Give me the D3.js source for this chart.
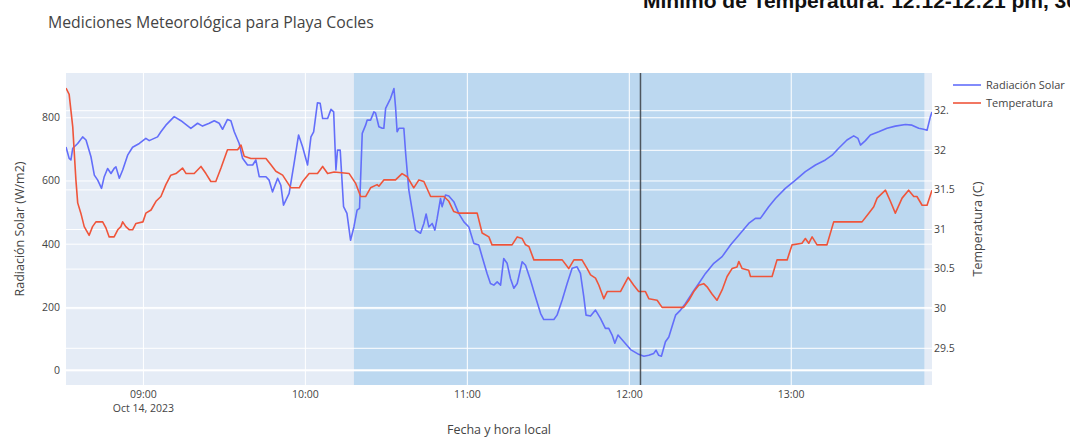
<!DOCTYPE html>
<html>
<head>
<meta charset="utf-8">
<script src="https://d3js.org/d3.v7.min.js"></script>
<style>
body { margin: 0; background: #ffffff; }
text { font-family: "Open Sans", sans-serif; }
</style>
</head>
<body>
<div id="chart"></div>
<script>
// Temperatura (C)
var tempTimes = ["08:31:30","08:32:40","08:34:00","08:35:10","08:35:50","08:37:00","08:38:15","08:40:05","08:41:20","08:42:35",
	"08:45:05","08:46:20","08:47:30","08:49:20","08:50:40","08:51:50","08:52:30","08:53:40","08:55:00","08:56:10",
	"08:57:25","09:00:00","09:01:05","09:03:00","09:04:50","09:06:40","09:08:30","09:10:20","09:12:15","09:14:40",
	"09:16:00","09:19:00","09:21:30","09:23:20","09:25:10","09:27:00","09:28:55","09:31:20","09:35:05","09:36:20",
	"09:37:30","09:40:00","09:45:35","09:47:25","09:49:15","09:51:45","09:54:50","09:57:55","09:59:10","10:01:35",
	"10:04:40","10:06:35","10:08:25","10:10:50","10:16:25","10:18:45","10:20:40","10:22:30","10:24:20","10:26:45",
	"10:27:25","10:29:15","10:33:35","10:36:00","10:37:55","10:40:20","10:42:15","10:44:05","10:46:35","10:51:30",
	"10:53:20","10:55:10","10:57:00","11:03:50","11:05:40","11:08:10","11:09:20","11:16:45","11:18:40","11:20:30",
	"11:21:45","11:23:00","11:24:50","11:35:20","11:37:45","11:39:40","11:42:40","11:44:35","11:45:50","11:47:40",
	"11:48:55","11:50:45","11:52:00","11:56:55","11:59:45","12:01:50","12:03:40","12:06:10","12:07:25","12:10:30",
	"12:12:20","12:20:20","12:22:15","12:24:05","12:25:55","12:27:45","12:29:00","12:30:50","12:32:40","12:34:35",
	"12:36:25","12:38:15","12:40:05","12:40:45","12:42:00","12:44:25","12:45:05","12:53:05","12:54:55","12:58:40",
	"13:00:30","13:04:10","13:05:25","13:06:40","13:07:55","13:09:45","13:13:25","13:15:55","13:26:25","13:28:55",
	"13:30:45","13:32:00","13:35:05","13:36:55","13:38:45","13:41:15","13:43:40","13:45:35","13:46:45","13:48:40",
	"13:50:30","13:52:20"];
var tempValues = [32.78,32.70,32.29,31.62,31.33,31.20,31.03,30.92,31.03,31.09,
	31.09,31.01,30.90,30.90,30.99,31.03,31.09,31.03,30.99,30.99,
	31.07,31.09,31.20,31.24,31.35,31.41,31.56,31.68,31.70,31.77,
	31.70,31.70,31.79,31.70,31.60,31.60,31.77,32.00,32.00,32.06,
	31.92,31.89,31.89,31.81,31.73,31.68,31.52,31.52,31.60,31.70,
	31.70,31.79,31.70,31.72,31.70,31.58,31.41,31.41,31.52,31.56,
	31.54,31.62,31.62,31.70,31.66,31.52,31.62,31.60,31.41,31.41,
	31.35,31.22,31.20,31.20,30.95,30.90,30.80,30.80,30.90,30.88,
	30.80,30.78,30.61,30.61,30.50,30.61,30.61,30.50,30.42,30.38,
	30.29,30.12,30.21,30.21,30.39,30.29,30.21,30.21,30.12,30.10,
	30.01,30.01,30.10,30.21,30.29,30.31,30.27,30.18,30.10,30.23,
	30.40,30.50,30.52,30.59,30.50,30.48,30.40,30.40,30.61,30.61,
	30.80,30.82,30.88,30.82,30.90,30.80,30.80,31.09,31.09,31.20,
	31.28,31.39,31.49,31.35,31.20,31.39,31.49,31.41,31.41,31.30,
	31.30,31.49];

// Radiacion Solar (W/m2)
var radTimes = ["08:31:30","08:32:40","08:33:20","08:34:00","08:35:50","08:37:40","08:38:55","08:40:45","08:42:00","08:43:15",
	"08:44:40","08:45:40","08:46:55","08:48:10","08:49:20","08:50:00","08:51:15","08:52:30","08:54:20","08:56:10",
	"08:58:40","09:01:05","09:02:20","09:05:25","09:06:40","09:08:30","09:11:35","09:14:05","09:17:45","09:20:15",
	"09:22:05","09:24:35","09:26:25","09:28:15","09:29:30","09:31:20","09:32:35","09:33:50","09:35:40","09:36:55",
	"09:38:45","09:40:40","09:41:50","09:43:05","09:45:35","09:46:45","09:48:00","09:49:55","09:51:05","09:52:05",
	"09:54:10","09:56:00","09:57:40","09:59:10","10:01:00","10:02:15","10:03:15","10:04:40","10:05:40","10:06:35",
	"10:08:25","10:09:40","10:10:40","10:11:30","10:12:05","10:13:05","10:14:20","10:15:35","10:16:55","10:18:10",
	"10:19:20","10:20:15","10:21:15","10:22:30","10:23:05","10:24:20","10:25:35","10:26:10","10:27:25","10:28:40",
	"10:29:15","10:29:55","10:31:45","10:33:00","10:33:35","10:34:10","10:34:50","10:36:40","10:37:20","10:38:30",
	"10:39:45","10:41:00","10:42:50","10:44:05","10:44:55","10:45:55","10:47:10","10:48:10","10:49:00","10:50:15",
	"10:50:50","10:52:05","10:53:20","10:55:10","10:57:00","10:58:55","11:00:45","11:02:35","11:04:25","11:05:40",
	"11:07:30","11:08:45","11:10:00","11:11:15","11:12:30","11:13:40","11:14:55","11:16:10","11:17:25","11:18:40",
	"11:20:30","11:21:45","11:23:35","11:25:25","11:27:20","11:28:30","11:32:15","11:33:25","11:35:20","11:37:10",
	"11:39:00","11:40:50","11:42:05","11:43:20","11:44:10","11:45:50","11:47:40","11:49:30","11:51:20","11:52:35",
	"11:53:50","11:54:50","11:56:00","11:58:10","12:00:40","12:03:40","12:05:35","12:07:25","12:09:15","12:10:05",
	"12:11:05","12:12:05","12:13:35","12:14:50","12:16:00","12:17:20","12:19:10","12:21:00","12:23:25","12:25:55",
	"12:28:25","12:31:30","12:34:35","12:37:40","12:40:45","12:44:25","12:46:55","12:48:45","12:51:50","12:54:20",
	"12:58:00","13:01:45","13:05:25","13:09:10","13:12:50","13:15:20","13:17:45","13:20:50","13:23:20","13:24:55",
	"13:25:50","13:27:40","13:29:30","13:32:35","13:35:40","13:38:45","13:42:30","13:44:55","13:47:25","13:49:15",
	"13:50:30","13:51:45","13:52:20"];
var radValues = [706,670,665,702,717,738,728,675,617,601,
	575,612,638,622,638,643,607,633,680,705,
	717,733,726,738,754,775,802,789,765,781,
	772,781,789,781,762,793,789,754,717,670,
	649,649,665,612,612,601,564,607,585,522,
	559,654,744,706,649,738,754,846,844,796,
	796,825,817,633,696,696,517,496,411,453,
	506,512,749,775,791,791,817,814,770,765,
	765,828,860,891,833,754,765,765,686,570,
	506,443,433,464,494,453,464,443,480,543,
	517,554,551,533,496,469,453,401,396,359,
	306,274,269,279,269,353,338,290,259,274,
	343,332,285,232,179,160,160,174,222,274,
	322,327,306,232,174,171,190,164,132,132,
	111,85,111,90,65,50,44,47,53,63,
	47,44,90,105,137,174,190,211,243,274,
	306,338,359,396,427,464,480,480,517,543,
	575,601,628,649,665,680,702,728,741,733,
	712,726,744,754,765,772,777,775,765,762,
	759,802,817];

var hourTicks = ["09:00", "10:00", "11:00", "12:00", "13:00"];
var dateLabel = "Oct 14, 2023";
var leftTicks = [0, 200, 400, 600, 800];
var rightTicks = [29.5, 30, 30.5, 31, 31.5, 32, 32.5];
var leftRange = [-47, 940];
var rightRange = [29.03, 32.97];
var shadeTimes = ["10:18:10", "13:49:30"];
var markerTime = "12:04:20";

var width = 1070, height = 437;
var margin = {top: 73, right: 138, bottom: 52, left: 66};
var plotW = width - margin.left - margin.right;
var plotH = height - margin.top - margin.bottom;

var parseTime = d3.timeParse("%H:%M:%S");
var parseHour = d3.timeParse("%H:%M");

var temp = tempTimes.map(function(t, i) { return {date: parseTime(t), value: tempValues[i]}; });
var rad = radTimes.map(function(t, i) { return {date: parseTime(t), value: radValues[i]}; });

var x = d3.scaleTime()
	.domain(d3.extent(temp.concat(rad), function(d) { return d.date; }))
	.range([0, plotW]);
var yLeft = d3.scaleLinear().domain(leftRange).range([plotH, 0]);
var yRight = d3.scaleLinear().domain(rightRange).range([plotH, 0]);

var svg = d3.select("#chart").append("svg")
	.attr("width", width)
	.attr("height", height);

var plot = svg.append("g")
	.attr("transform", "translate(" + margin.left + "," + margin.top + ")");

svg.append("defs").append("clipPath")
	.attr("id", "clip")
	.append("rect")
	.attr("width", plotW)
	.attr("height", plotH);

plot.append("rect")
	.attr("width", plotW)
	.attr("height", plotH)
	.attr("fill", "#e5ecf6");

// zona sombreada
plot.append("rect")
	.attr("x", x(parseTime(shadeTimes[0])))
	.attr("y", 0)
	.attr("width", x(parseTime(shadeTimes[1])) - x(parseTime(shadeTimes[0])))
	.attr("height", plotH)
	.attr("fill", "rgb(188,216,240)");

// grid lines
function grid(g) {
	g.select(".domain").remove();
	g.selectAll(".tick line").attr("stroke", "#ffffff").attr("stroke-width", 1);
	g.selectAll(".tick text").remove();
}
plot.append("g")
	.attr("transform", "translate(0," + plotH + ")")
	.call(d3.axisBottom(x).tickValues(hourTicks.map(parseHour)).tickSize(-plotH).tickFormat(""))
	.call(grid);
plot.append("g")
	.call(d3.axisLeft(yLeft).tickValues(leftTicks).tickSize(-plotW).tickFormat(""))
	.call(grid);
plot.append("g")
	.attr("transform", "translate(" + plotW + ",0)")
	.call(d3.axisRight(yRight).tickValues(rightTicks).tickSize(-plotW).tickFormat(""))
	.call(grid);
plot.append("line")
	.attr("x1", 0).attr("x2", plotW)
	.attr("y1", yLeft(0)).attr("y2", yLeft(0))
	.attr("stroke", "#ffffff")
	.attr("stroke-width", 2);

var lineRad = d3.line()
	.x(function(d) { return x(d.date); })
	.y(function(d) { return yLeft(d.value); });
var lineTemp = d3.line()
	.x(function(d) { return x(d.date); })
	.y(function(d) { return yRight(d.value); });

var traces = plot.append("g").attr("clip-path", "url(#clip)");
traces.append("path")
	.datum(rad)
	.attr("d", lineRad)
	.attr("fill", "none")
	.attr("stroke", "#636efa")
	.attr("stroke-width", 1.6)
	.attr("stroke-linejoin", "round");
traces.append("path")
	.datum(temp)
	.attr("d", lineTemp)
	.attr("fill", "none")
	.attr("stroke", "#ef553b")
	.attr("stroke-width", 1.6)
	.attr("stroke-linejoin", "round");

plot.append("line")
	.attr("x1", x(parseTime(markerTime))).attr("x2", x(parseTime(markerTime)))
	.attr("y1", 0).attr("y2", plotH)
	.attr("stroke", "#3a3f45")
	.attr("stroke-width", 1.5)
	.attr("opacity", 0.85);

// axes
var xAxis = plot.append("g")
	.attr("transform", "translate(0," + plotH + ")")
	.call(d3.axisBottom(x).tickValues(hourTicks.map(parseHour)).tickSize(0).tickPadding(6)
		.tickFormat(d3.timeFormat("%H:%M")));
xAxis.selectAll(".tick text").filter(function(d, i) { return i === 0; })
	.append("tspan")
	.attr("x", 0)
	.attr("dy", "1.3em")
	.text(dateLabel);

var yAxisL = plot.append("g")
	.call(d3.axisLeft(yLeft).tickValues(leftTicks).tickSize(0).tickPadding(6));
var yAxisR = plot.append("g")
	.attr("transform", "translate(" + plotW + ",0)")
	.call(d3.axisRight(yRight).tickValues(rightTicks).tickSize(0).tickPadding(2)
		.tickFormat(function(d) { return d3.format("~g")(d); }));

[xAxis, yAxisL, yAxisR].forEach(function(g) {
	g.select(".domain").remove();
	g.selectAll(".tick text")
		.attr("fill", "#444")
		.style("font-size", "10.5px")
		.style("font-family", "'Open Sans', sans-serif");
});

// legend
var legend = svg.append("g").attr("transform", "translate(949,73)");
legend.append("rect")
	.attr("width", 121)
	.attr("height", 44)
	.attr("fill", "#ffffff");
var legendItems = [["Radiación Solar", "#636efa"], ["Temperatura", "#ef553b"]];
legendItems.forEach(function(item, i) {
	legend.append("line")
		.attr("x1", 4).attr("x2", 32)
		.attr("y1", 12 + i * 18).attr("y2", 12 + i * 18)
		.attr("stroke", item[1])
		.attr("stroke-width", 1.6);
	legend.append("text")
		.attr("x", 37)
		.attr("y", 12 + i * 18)
		.attr("dy", ".35em")
		.attr("fill", "#444")
		.style("font-size", "11px")
		.text(item[0]);
});

// titles
svg.append("text")
	.attr("x", 48)
	.attr("y", 28)
	.attr("fill", "#444")
	.style("font-size", "15.8px")
	.text("Mediciones Meteorológica para Playa Cocles");

svg.append("text")
	.attr("x", margin.left + plotW / 2)
	.attr("y", 434)
	.attr("fill", "#444")
	.style("text-anchor", "middle")
	.style("font-size", "12.5px")
	.text("Fecha y hora local");

svg.append("text")
	.attr("transform", "translate(24," + (margin.top + plotH / 2) + ") rotate(-90)")
	.attr("fill", "#444")
	.style("text-anchor", "middle")
	.style("font-size", "12.5px")
	.text("Radiación Solar (W/m2)");

svg.append("text")
	.attr("transform", "translate(982," + (margin.top + plotH / 2) + ") rotate(-90)")
	.attr("fill", "#444")
	.style("text-anchor", "middle")
	.style("font-size", "12.5px")
	.text("Temperatura (C)");

// anotacion superior (recortada en el original)
svg.append("text")
	.attr("x", 643)
	.attr("y", 8)
	.attr("fill", "#111")
	.style("font-family", "'Liberation Sans', Arial, sans-serif")
	.style("font-weight", "bold")
	.style("font-size", "21px")
	.text("Mínimo de Temperatura: 12:12-12:21 pm, 30");
</script>
</body>
</html>
